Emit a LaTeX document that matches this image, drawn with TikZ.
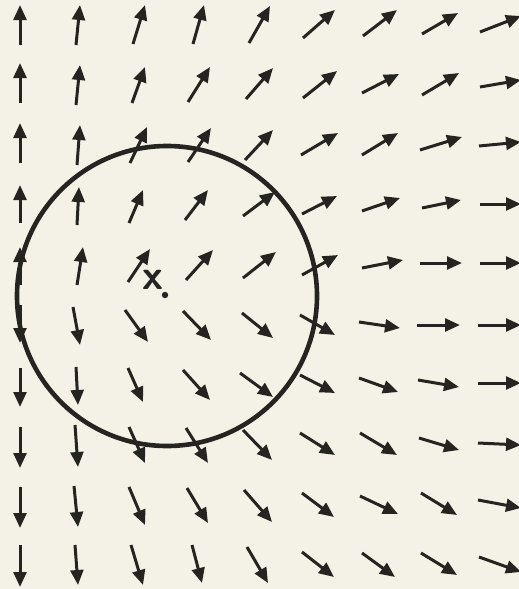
\documentclass[tikz,border=0pt]{standalone}
\usepackage{tikz}
\usetikzlibrary{arrows.meta}
\definecolor{ink}{RGB}{38,36,32}
\definecolor{paper}{RGB}{244,242,231}
\tikzset{
  vec/.style={draw=ink,line width=1.5pt,-{Triangle[length=7.5pt,width=6.4pt]}},
  ring/.style={draw=ink,line width=2.3pt},
  lbl/.style={font=\sffamily\bfseries\fontsize{21}{22}\selectfont,text=ink,inner sep=0pt},
  dot/.style={circle,fill=ink,inner sep=0pt,minimum size=3.2pt},
}

\begin{document}
\begin{tikzpicture}[x=0.5pt,y=-0.5pt]
\fill[paper] (0,0) rectangle (519,589);
\useasboundingbox (0,0) rectangle (519,589);
% field arrows, row by row: tail / tip
\foreach \ax/\ay/\bx/\by in {
  20/45/20/5, 76/45/80/5, 133/44/145/5, 193/44/204/5, 249/43/270/6,
  303/38/335/10, 363/36/397/10, 422/34/458/13, 480/32/521/16,
  20/103/20/63, 76/105/80/65, 132/103/145/67, 188/102/210/67, 246/99/273/68,
  303/98/337/71, 362/93/399/74, 422/95/459/73, 480/87/521/80,
  20/163/20/123, 77/165/80/125, 130/163/147/127, 188/162/211/128, 245/160/273/130,
  301/155/338/133, 362/155/398/133, 420/150/462/137, 479/146/521/142,
  20/223/20/185, 77/225/79/187, 129/223/143/190, 185/220/208/190, 243/216/275/192,
  302/214/337/196, 362/211/400/198, 422/208/461/200, 480/204/521/204,
  20/285/20/247, 77/285/83/247, 128/282/150/249, 186/280/213/250, 243/278/276/252,
  302/275/338/255, 362/268/403/260, 420/263/462/263, 480/263/521/263,
  20/305/20/343, 73/307/80/345, 125/310/148/342, 183/311/211/340, 242/313/273/338,
  300/315/335/335, 359/322/400/328, 417/325/460/325, 478/325/521/325,
  20/368/20/407, 76/367/78/405, 128/368/143/402, 183/370/210/400, 240/373/273/397,
  300/375/335/393, 359/378/398/392, 418/380/459/387, 478/383/521/383,
  20/427/20/468, 75/425/78/467, 129/427/145/463, 186/428/208/463, 243/430/272/460,
  300/433/335/455, 360/433/397/455, 419/438/459/450, 478/443/521/445,
  20/487/20/528, 74/486/78/527, 129/487/145/525, 187/488/208/523, 244/490/272/522,
  302/493/334/517, 360/496/398/514, 421/493/457/515, 478/500/521/508,
  20/545/20/587, 75/545/78/585, 131/545/143/585, 192/545/202/583, 247/547/268/583,
  302/552/334/577, 362/553/395/577, 421/553/457/575, 479/557/521/572}
  \draw[vec] (\ax,\ay) -- (\bx,\by);
% surface round the point
\coordinate (ctr) at (167,296);
\draw[ring] (ctr) circle [radius=150];
\node[dot] (pt) at (165,295) {};
\node[lbl] (xlab) at (153,280) {x};
\end{tikzpicture}
\end{document}
